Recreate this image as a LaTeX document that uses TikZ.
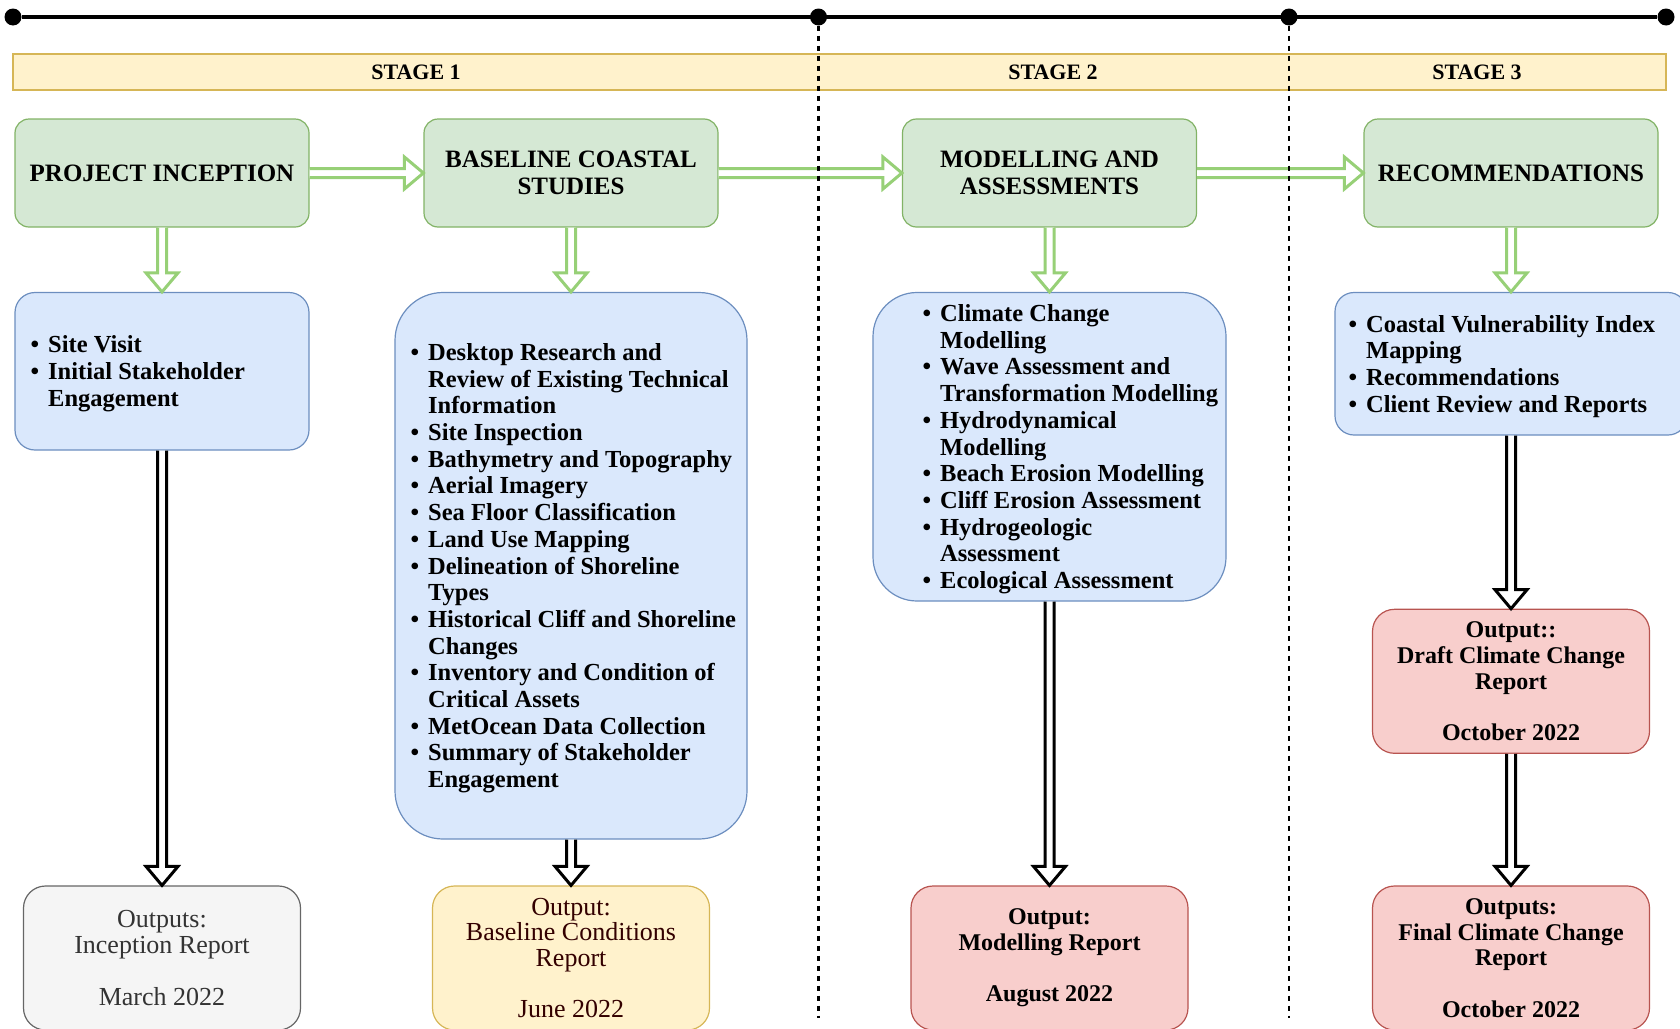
\documentclass[tikz,border=0pt]{standalone}
\usepackage{fontspec}
\setmainfont{Liberation Serif}
\usetikzlibrary{calc,positioning}

\definecolor{headfill}{HTML}{D5E8D4}
\definecolor{headline}{HTML}{82B366}
\definecolor{listfill}{HTML}{DAE8FC}
\definecolor{listline}{HTML}{6C8EBF}
\definecolor{bandfill}{HTML}{FFF2CC}
\definecolor{bandline}{HTML}{D6B656}
\definecolor{redfill}{HTML}{F8CECC}
\definecolor{redline}{HTML}{B85450}
\definecolor{greyfill}{HTML}{F5F5F5}
\definecolor{greyline}{HTML}{666666}
\definecolor{greytext}{HTML}{333333}
\definecolor{browntext}{HTML}{330000}
\definecolor{arrowgreen}{HTML}{97D077}

\newcommand{\bl}{\textbullet}

% hollow arrow to the right: style, from, to
\newcommand{\ArrowRight}[3]{
    \filldraw[#1] ($(#2)+(0,4.5)$) -- ($(#3)+(-19,4.5)$) -- ($(#3)+(-19,16)$) -- (#3)
        -- ($(#3)+(-19,-16)$) -- ($(#3)+(-19,-4.5)$) -- ($(#2)+(0,-4.5)$);
}
% hollow arrow downwards: style, from, to
\newcommand{\ArrowDown}[3]{
    \filldraw[#1] ($(#2)+(-4.5,0)$) -- ($(#3)+(-4.5,-19)$) -- ($(#3)+(-16,-19)$) -- (#3)
        -- ($(#3)+(16,-19)$) -- ($(#3)+(4.5,-19)$) -- ($(#2)+(4.5,0)$);
}

\begin{document}
\begin{tikzpicture}[x=1pt, y=-1pt,
    dot/.style={circle, fill=black, inner sep=0, minimum size=17pt},
    timeline/.style={line width=4pt},
    divider/.style={line width=2.2pt, dash pattern=on 5pt off 5pt},
    band/.style={draw=bandline, fill=bandfill, line width=1.2pt, minimum width=1653pt, minimum height=36pt},
    stagetxt/.style={font=\fontsize{22}{26}\selectfont\bfseries},
    head/.style={draw=headline, fill=headfill, line width=1.2pt, rounded corners=14pt,
        minimum width=294pt, minimum height=108pt, align=center,
        font=\fontsize{25}{26.8}\selectfont\bfseries},
    task/.style={draw=listline, fill=listfill, line width=1.2pt},
    list/.style={inner sep=0, yshift=-3pt, font=\fontsize{24.5}{26.7}\selectfont\bfseries},
    output/.style={line width=1.2pt, rounded corners=22pt, minimum width=277pt,
        minimum height=144pt, align=center, font=\fontsize{26}{25.7}\selectfont},
    boldout/.style={output, draw=redline, fill=redfill, font=\fontsize{24}{25.7}\selectfont\bfseries},
    garrow/.style={draw=arrowgreen, fill=white, line width=3pt, line join=miter},
    barrow/.style={draw=black, fill=white, line width=3pt, line join=miter}]

    \useasboundingbox (0,0) rectangle (1680,1028);

    % timeline
    \node[dot] (t1) at (13,17) {};
    \node[dot] (t2) at (818.5,17) {};
    \node[dot] (t3) at (1289,17) {};
    \node[dot] (t4) at (1666,17) {};
    \draw[timeline] (t1) -- (t4);

    % stages
    \node[band] (band) at (839.5,72) {};
    \node[stagetxt] (s1) at (416,72) {STAGE 1};
    \node[stagetxt] (s2) at (1053,72) {STAGE 2};
    \node[stagetxt] (s3) at (1477,72) {STAGE 3};

    % phases
    \node[head] (g1) at (162,173) {PROJECT INCEPTION};
    \node[head] (g2) at (571,173) {BASELINE COASTAL\\STUDIES};
    \node[head] (g3) at (1049.5,173) {MODELLING AND\\ASSESSMENTS};
    \node[head] (g4) at (1511,173) {RECOMMENDATIONS};

    % tasks
    \node[task, rounded corners=20pt, minimum width=294pt, minimum height=157.5pt] (b1) at (162,371.25) {};
    \node[task, rounded corners=48pt, minimum width=352pt, minimum height=546.5pt] (b2) at (571,565.75) {};
    \node[task, rounded corners=44pt, minimum width=353pt, minimum height=308.5pt] (b3) at (1049.5,446.75) {};
    \node[task, rounded corners=19pt, minimum width=352pt, minimum height=142.5pt] (b4) at (1511,363.75) {};

    \node[list, right=16pt of b1.west] (l1) {\begin{tabular}{@{}l@{\hspace{9pt}}l@{}}
        \bl & Site Visit\\
        \bl & Initial Stakeholder\\
            & Engagement
    \end{tabular}};
    \node[list, right=16pt of b2.west] (l2) {\begin{tabular}{@{}l@{\hspace{9pt}}l@{}}
        \bl & Desktop Research and\\
            & Review of Existing Technical\\
            & Information\\
        \bl & Site Inspection\\
        \bl & Bathymetry and Topography\\
        \bl & Aerial Imagery\\
        \bl & Sea Floor Classification\\
        \bl & Land Use Mapping\\
        \bl & Delineation of Shoreline\\
            & Types\\
        \bl & Historical Cliff and Shoreline\\
            & Changes\\
        \bl & Inventory and Condition of\\
            & Critical Assets\\
        \bl & MetOcean Data Collection\\
        \bl & Summary of Stakeholder\\
            & Engagement
    \end{tabular}};
    \node[list, right=50pt of b3.west] (l3) {\begin{tabular}{@{}l@{\hspace{9pt}}l@{}}
        \bl & Climate Change\\
            & Modelling\\
        \bl & Wave Assessment and\\
            & Transformation Modelling\\
        \bl & Hydrodynamical\\
            & Modelling\\
        \bl & Beach Erosion Modelling\\
        \bl & Cliff Erosion Assessment\\
        \bl & Hydrogeologic\\
            & Assessment\\
        \bl & Ecological Assessment
    \end{tabular}};
    \node[list, right=14pt of b4.west] (l4) {\begin{tabular}{@{}l@{\hspace{9pt}}l@{}}
        \bl & Coastal Vulnerability Index\\
            & Mapping\\
        \bl & Recommendations\\
        \bl & Client Review and Reports
    \end{tabular}};

    % outputs
    \node[output, draw=greyline, fill=greyfill, text=greytext] (o1) at (162,958)
        {Outputs:\\Inception Report\\~\\March 2022};
    \node[output, draw=bandline, fill=bandfill, text=browntext] (o2) at (571,958)
        {Output:\\Baseline Conditions\\Report\\~\\June 2022};
    \node[boldout] (o3) at (1049.5,958) {Output:\\Modelling Report\\~\\August 2022};
    \node[boldout] (o4) at (1511,681.3) {Output::\\Draft Climate Change\\Report\\~\\October 2022};
    \node[boldout] (o5) at (1511,958) {Outputs:\\Final Climate Change\\Report\\~\\October 2022};

    % green arrows
    \ArrowRight{garrow}{g1.east}{g2.west}
    \ArrowRight{garrow}{g2.east}{g3.west}
    \ArrowRight{garrow}{g3.east}{g4.west}
    \ArrowDown{garrow}{g1.south}{b1.north}
    \ArrowDown{garrow}{g2.south}{b2.north}
    \ArrowDown{garrow}{g3.south}{b3.north}
    \ArrowDown{garrow}{g4.south}{b4.north}

    % black arrows
    \ArrowDown{barrow}{b1.south}{o1.north}
    \ArrowDown{barrow}{b2.south}{o2.north}
    \ArrowDown{barrow}{b3.south}{o3.north}
    \ArrowDown{barrow}{b4.south}{o4.north}
    \ArrowDown{barrow}{o4.south}{o5.north}

    % stage dividers
    \coordinate (e2) at (818.5,1018);
    \coordinate (e3) at (1289,1018);
    \draw[divider] (t2) -- (e2);
    \draw[divider] (t3) -- (e3);
\end{tikzpicture}
\end{document}
